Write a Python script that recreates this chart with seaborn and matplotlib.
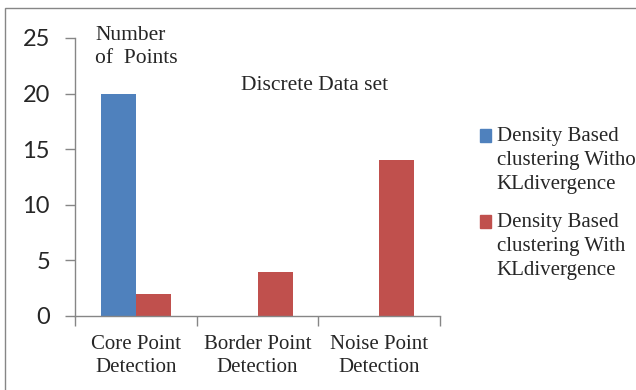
import matplotlib
matplotlib.use("Agg")
import matplotlib.pyplot as plt
import seaborn as sns
import pandas as pd
from matplotlib.patches import Rectangle

categories = ["Core Point\nDetection", "Border Point\nDetection", "Noise Point\nDetection"]
series_names = ["Density Based\nclustering Without\nKLdivergence",
                "Density Based\nclustering With\nKLdivergence"]
without_kl = [20, 0, 0]
with_kl = [2, 4, 14]
colors = ["#4F81BD", "#C0504D"]
y_ticks = [0, 5, 10, 15, 20, 25]

df = pd.DataFrame({
    "category": categories * 2,
    "series": [series_names[0]] * 3 + [series_names[1]] * 3,
    "value": without_kl + with_kl,
})

sns.set_theme(style="white")
plt.rcParams["font.family"] = ["Liberation Serif", "DejaVu Serif"]

fig = plt.figure(figsize=(6.36, 3.90), dpi=100)
ax = fig.add_axes([75/636, 1 - 316/390, (440-75)/636, (316-38)/390])

sns.barplot(data=df, x="category", y="value", hue="series", palette=colors,
            width=0.58, ax=ax, legend=False, saturation=1, linewidth=0, edgecolor="none")

ax.set_ylim(0, 25)
ax.set_xlim(-0.5, 2.5)
ax.set_yticks(y_ticks)
ax.set_yticklabels([str(v) for v in y_ticks], family=["Lato", "DejaVu Sans"], fontsize=17)
ax.set_xticks([-0.5, 0.5, 1.5, 2.5])
ax.set_xticklabels([])
ax.set_xticks([0, 1, 2], minor=True)
ax.set_xticklabels(categories, minor=True, fontsize=15, linespacing=1.33)
ax.tick_params(axis="x", which="major", direction="out", length=7, width=1, color="#868686", bottom=True)
ax.tick_params(axis="x", which="minor", length=0, pad=13.5)
ax.tick_params(axis="y", direction="out", length=7, width=1, color="#868686", left=True, pad=11)
ax.set_xlabel("")
ax.set_ylabel("")
for s in ["top", "right"]:
    ax.spines[s].set_visible(False)
for s in ["left", "bottom"]:
    ax.spines[s].set_color("#868686")
    ax.spines[s].set_linewidth(1)

fig.text(95/636, 1 - 26/390, "Number\nof  Points", fontsize=15.5, va="top", ha="left", linespacing=1.3)
fig.text(241/636, 1 - 86/390, "Discrete Data set", fontsize=15.5, va="center", ha="left")

handles = [Rectangle((0, 0), 1, 1, color=c) for c in colors]
leg = fig.legend(handles, series_names, loc="upper left", bbox_to_anchor=(480/636, 1 - 127/390),
                 frameon=False, fontsize=15, handlelength=0.55, handleheight=0.55,
                 handletextpad=0.25, labelspacing=0.9, borderaxespad=0, borderpad=0)
for t in leg.get_texts():
    t.set_linespacing(1.37)
# align each legend square with the first line of its label
for h in leg.legend_handles:
    h.set_y(h.get_y() + 18.0)

fig.patches.append(Rectangle((5/636, -0.2), 1.2, 1.2 - 8/390, transform=fig.transFigure,
                             fill=False, edgecolor="#868686", linewidth=1, figure=fig))

fig.savefig("out.png", dpi=100)
